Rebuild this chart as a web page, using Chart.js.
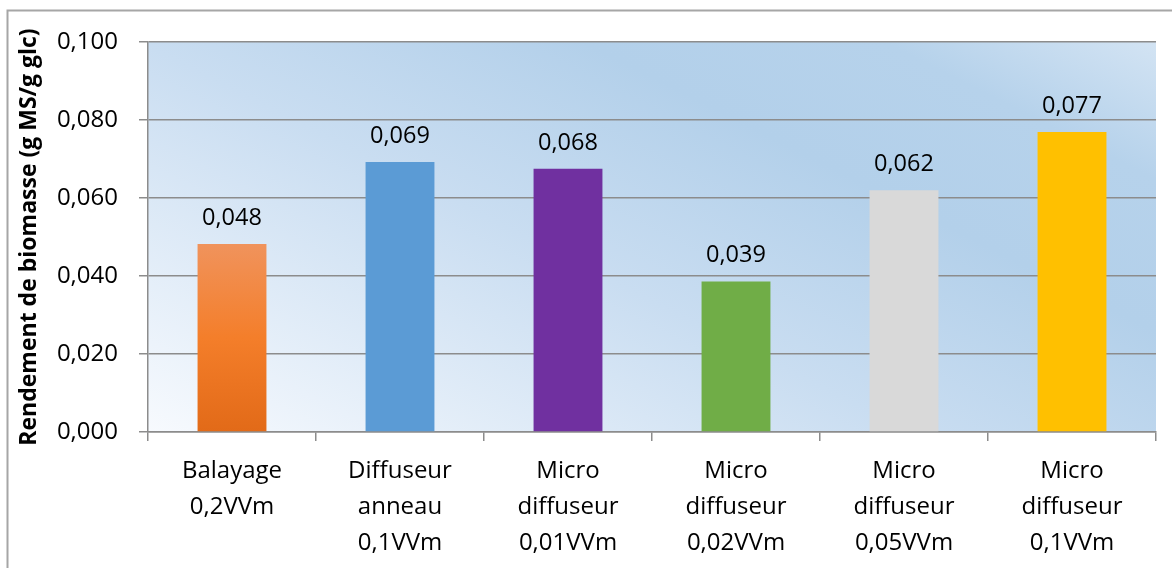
<!DOCTYPE html>
<html lang="fr">
<head>
    <meta charset="UTF-8">
    <title>Rendement de biomasse</title>
    <script src="https://cdn.jsdelivr.net/npm/chart.js"></script>
    <style>
        body { margin: 0; background: #fff; }
    </style>
</head>
<body>
    <canvas id="myChart" width="1172" height="568"></canvas>

    <script>
        // categories and values
        const categories = [
            ['Balayage', '0,2VVm'],
            ['Diffuseur', 'anneau', '0,1VVm'],
            ['Micro', 'diffuseur', '0,01VVm'],
            ['Micro', 'diffuseur', '0,02VVm'],
            ['Micro', 'diffuseur', '0,05VVm'],
            ['Micro', 'diffuseur', '0,1VVm']
        ];
        const rendement = [0.0482, 0.0692, 0.0675, 0.0386, 0.0620, 0.0769];
        const barColors = ['#F07F2E', '#5B9BD5', '#7030A0', '#70AD47', '#D9D9D9', '#FFC000'];
        const yTicks = [0, 0.02, 0.04, 0.06, 0.08, 0.1];

        const FONT = "'Open Sans', Lato, sans-serif";
        const fmt = v => v.toFixed(3).replace('.', ',');

        // plot background + outer frame
        const backdrop = {
            id: 'backdrop',
            beforeDraw(chart) {
                const { ctx, chartArea: a } = chart;
                ctx.save();
                const g = ctx.createLinearGradient(a.left, a.bottom, a.left + 361, a.bottom - 714);
                g.addColorStop(0, '#F7FAFE');
                g.addColorStop(0.43, '#C9DDF1');
                g.addColorStop(0.68, '#B3D0EA');
                g.addColorStop(0.85, '#B6D2EB');
                g.addColorStop(1, '#D2E3F3');
                ctx.fillStyle = g;
                ctx.fillRect(a.left, a.top, a.right - a.left, a.bottom - a.top);
                ctx.strokeStyle = '#A6A6A6';
                ctx.lineWidth = 2;
                ctx.strokeRect(7.5, 10.5, chart.width + 20, chart.height + 20);
                ctx.restore();
            }
        };

        // value labels above the bars
        const valueLabels = {
            id: 'valueLabels',
            afterDatasetsDraw(chart) {
                const { ctx } = chart;
                const meta = chart.getDatasetMeta(0);
                ctx.save();
                ctx.fillStyle = '#000';
                ctx.font = '23.5px ' + FONT;
                ctx.textAlign = 'center';
                ctx.textBaseline = 'alphabetic';
                meta.data.forEach((bar, i) => {
                    ctx.fillText(fmt(rendement[i]), bar.x, bar.y - 19);
                });
                ctx.restore();
            }
        };

        const ctxEl = document.getElementById('myChart');

        // orange bar has a vertical gradient
        function barFill(context) {
            const chart = context.chart;
            if (!chart.chartArea) return barColors[context.dataIndex];
            if (context.dataIndex === 0) {
                const y = chart.scales.y;
                const g = chart.ctx.createLinearGradient(0, y.getPixelForValue(rendement[0]), 0, y.getPixelForValue(0));
                g.addColorStop(0, '#F0935C');
                g.addColorStop(0.5, '#F47E2A');
                g.addColorStop(1, '#E26A18');
                return g;
            }
            return barColors[context.dataIndex];
        }

        const config = {
            type: 'bar',
            data: {
                labels: categories,
                datasets: [{
                    data: rendement,
                    backgroundColor: barFill,
                    borderWidth: 0,
                    barPercentage: 0.41,
                    categoryPercentage: 1
                }]
            },
            options: {
                responsive: false,
                animation: false,
                layout: { padding: { left: 0, top: 42, right: 16, bottom: 0 } },
                plugins: {
                    legend: { display: false },
                    tooltip: { enabled: false }
                },
                scales: {
                    x: {
                        offset: true,
                        afterFit: axis => { axis.height = 136; },
                        grid: {
                            offset: true,
                            drawOnChartArea: false,
                            color: '#8C8C8C',
                            lineWidth: 1.5,
                            tickLength: 9
                        },
                        border: { color: '#8C8C8C', width: 1.5 },
                        ticks: {
                            color: '#000',
                            font: { family: FONT, size: 24, lineHeight: 1.5 },
                            padding: 12,
                            maxRotation: 0,
                            autoSkip: false
                        }
                    },
                    y: {
                        min: 0,
                        max: 0.1,
                        afterFit: axis => { axis.width = 148; },
                        afterBuildTicks: axis => { axis.ticks = yTicks.map(v => ({ value: v })); },
                        grid: {
                            color: '#8C8C8C',
                            lineWidth: 1.5,
                            tickLength: 9
                        },
                        border: { color: '#8C8C8C', width: 1.5 },
                        ticks: {
                            color: '#000',
                            font: { family: FONT, size: 24 },
                            padding: 21,
                            callback: v => fmt(v)
                        },
                        title: {
                            display: true,
                            text: 'Rendement de biomasse (g MS/g glc)',
                            color: '#000',
                            font: { family: FONT, size: 23, weight: 'bold' },
                            padding: { top: 16, bottom: 6 }
                        }
                    }
                }
            },
            plugins: [backdrop, valueLabels]
        };

        var myChart = new Chart(ctxEl, config);
    </script>
</body>
</html>
